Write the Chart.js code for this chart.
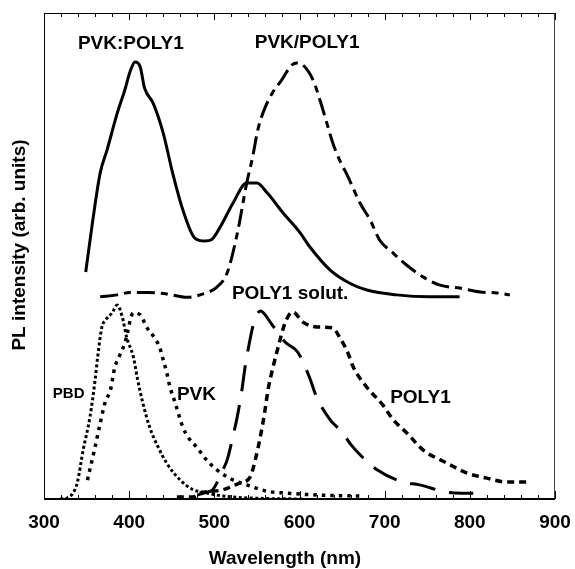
<!DOCTYPE html>
<html>
<head>
<meta charset="utf-8">
<script src="https://cdn.jsdelivr.net/npm/chart.js@4"></script>
<style>
  html, body { margin: 0; padding: 0; background: #fff; }
  #wrap { width: 575px; height: 569px; }
</style>
</head>
<body>
<div id="wrap"><canvas id="plChart" width="575" height="569"></canvas></div>
<script>
// PL spectra, wavelength (nm) vs intensity (arb. units, 0..100 of axis height)
const blendNm = [349, 357, 366, 374, 386, 395, 401, 407, 413, 418, 428, 440, 451, 463, 477, 489, 497, 507, 522, 538, 550, 562, 581, 601, 612, 636, 659, 679, 714, 753, 788];
const blendPL = [46.7, 57, 67.1, 71.8, 79.4, 84.2, 87.9, 89.9, 88.9, 84.6, 81.5, 75.3, 67.1, 59.5, 53.7, 53.1, 53.4, 56, 60.9, 65, 65, 63, 58.8, 54.7, 51.9, 47.1, 44.4, 43, 42, 41.6, 41.6];

const bilayerNm = [366, 386, 401, 421, 444, 468, 487, 503, 515, 527, 538, 545, 551, 557, 568, 579, 591, 597, 604, 616, 624, 632, 639, 647, 657, 671, 683, 694, 710, 726, 745, 765, 788, 812, 832, 847];
const bilayerPL = [41.6, 42.0, 42.5, 42.5, 42.2, 41.5, 42.2, 43.6, 46.5, 54.7, 65, 70.4, 75.9, 79.4, 83.5, 86.2, 89.3, 89.7, 89.3, 86.2, 82.1, 77.4, 73.3, 69.8, 66.3, 60.9, 57.4, 53.3, 50.6, 48.1, 45.7, 44, 43.4, 42.6, 42.4, 42];

const pbdNm = [319, 327, 334, 339, 346, 354, 360, 363, 368, 372, 380, 386, 392, 397, 405, 410, 416, 424, 434, 444, 460, 475, 487, 503, 522, 562, 606];
const pbdPL = [0, 0.2, 1.2, 3.3, 10.1, 16.9, 24.5, 29.2, 35.4, 36.8, 38.3, 39.9, 37.4, 33.3, 29.2, 24.5, 19.8, 14.8, 10.7, 7.4, 3.9, 1.9, 1.4, 0.8, 0.4, 0.1, 0];

const pvkNm = [351, 360, 366, 372, 378, 383, 389, 395, 405, 413, 421, 430, 436, 440, 444, 448, 454, 463, 469, 480, 491, 503, 522, 538, 562, 585, 624, 674];
const pvkPL = [3.9, 10.7, 15.6, 20, 22.4, 27, 29.6, 32.1, 38.3, 37.9, 35.2, 33.1, 31.1, 28.6, 26.1, 23, 19.8, 14.8, 12.8, 10.5, 8, 6, 3.9, 2.9, 1.6, 1.2, 0.8, 0.6];

const solutNm = [480, 491, 498, 510, 515, 522, 527, 532, 536, 541, 546, 554, 568, 583, 598, 612, 620, 636, 651, 659, 674, 691, 721, 741, 773, 791, 804];
const solutPL = [0.8, 1.4, 1.9, 6, 8, 13, 17, 22, 27, 32, 36, 38.7, 35.8, 32.3, 30.2, 24.9, 21, 16.3, 13.6, 11.5, 8.6, 6, 3.5, 2.9, 1.4, 1.2, 1.2];

const filmNm = [456, 475, 483, 510, 530, 542, 548, 554, 559, 563, 569, 575, 583, 592, 604, 620, 639, 647, 657, 663, 679, 698, 710, 726, 745, 773, 797, 820, 843, 870];
const filmPL = [0.4, 0.4, 1.2, 1.9, 3.3, 4.5, 8, 12.8, 17.7, 22.4, 27.2, 31.3, 36.2, 38.5, 36.4, 35.4, 35.2, 33.3, 30, 27.2, 23, 19.3, 16.3, 13.6, 10.1, 7.4, 5.3, 4.3, 3.5, 3.5];

// curve labels, placed in data coordinates
const labelTexts = ['PVK:POLY1', 'PVK/POLY1', 'POLY1 solut.', 'PBD', 'PVK', 'POLY1'];
const labelNm = [402, 609, 589, 329, 479, 742];
const labelPL = [93.6, 93.8, 42.2, 21.6, 21.4, 20.8];
const labelSize = [19, 19, 19, 15, 19, 19];

const xTicks = [300, 400, 500, 600, 700, 800, 900];

const FONT = '"Liberation Sans", Arial, sans-serif';

function toPoints(xs, ys) {
    return xs.map((x, i) => ({ x: x, y: ys[i] }));
}

function lineSet(label, xs, ys, dash, width) {
    return {
        label: label,
        data: toPoints(xs, ys),
        borderColor: '#000',
        borderWidth: width,
        borderDash: dash,
        borderCapStyle: 'butt',
        pointRadius: 0,
        fill: false,
        cubicInterpolationMode: 'monotone'
    };
}

// frame, inner ticks and text labels
const framePlugin = {
    id: 'frame',
    afterDraw(chart) {
        const { ctx, chartArea: a, scales } = chart;
        const xs = scales.x, ys = scales.y;
        ctx.save();
        ctx.strokeStyle = '#000';
        ctx.lineWidth = 1;
        ctx.beginPath();
        ctx.moveTo(a.left + 0.5, a.bottom);
        ctx.lineTo(a.left + 0.5, a.top + 0.5);
        ctx.lineTo(a.right, a.top + 0.5);
        ctx.stroke();
        ctx.strokeStyle = '#444';
        ctx.beginPath();
        ctx.moveTo(a.right - 0.5, a.top);
        ctx.lineTo(a.right - 0.5, a.bottom);
        ctx.stroke();
        ctx.strokeStyle = '#000';
        ctx.lineWidth = 2;
        ctx.beginPath();
        ctx.moveTo(a.left, a.bottom);
        ctx.lineTo(a.right, a.bottom);
        ctx.stroke();

        ctx.lineWidth = 1;
        ctx.beginPath();
        for (let v = 300; v <= 900; v += 20) {
            const px = Math.round(xs.getPixelForValue(v)) + 0.5;
            const major = v % 100 === 0;
            ctx.moveTo(px, a.bottom);
            ctx.lineTo(px, a.bottom - (major ? 8 : 4));
            ctx.moveTo(px, a.top);
            ctx.lineTo(px, a.top + (major ? 7 : 4));
        }
        ctx.stroke();

        ctx.fillStyle = '#000';
        ctx.textAlign = 'center';
        ctx.textBaseline = 'middle';
        labelTexts.forEach((t, i) => {
            ctx.font = 'bold ' + labelSize[i] + 'px ' + FONT;
            ctx.fillText(t, xs.getPixelForValue(labelNm[i]), ys.getPixelForValue(labelPL[i]));
        });

        // axis titles
        ctx.font = 'bold 19px ' + FONT;
        ctx.fillText('Wavelength (nm)', 285, 559);
        ctx.translate(19.5, 245);
        ctx.rotate(-Math.PI / 2);
        ctx.fillText('PL intensity (arb. units)', 0, 0);
        ctx.restore();
    }
};

const ctx = document.getElementById('plChart').getContext('2d');
new Chart(ctx, {
    type: 'line',
    data: {
        datasets: [
            lineSet('PVK:POLY1', blendNm, blendPL, [], 3),
            lineSet('PVK/POLY1', bilayerNm, bilayerPL, [18, 6, 7, 6], 3),
            lineSet('PBD', pbdNm, pbdPL, [3, 2.5], 3),
            lineSet('PVK', pvkNm, pvkPL, [3.5, 5], 3.5),
            lineSet('POLY1 solut.', solutNm, solutPL, [26, 14], 3),
            lineSet('POLY1', filmNm, filmPL, [7, 5], 3.5)
        ]
    },
    options: {
        responsive: false,
        animation: false,
        layout: { padding: { top: 13, right: 20, left: 0, bottom: 0 } },
        plugins: {
            legend: { display: false },
            tooltip: { enabled: false }
        },
        scales: {
            x: {
                type: 'linear',
                min: 300,
                max: 900,
                afterBuildTicks: s => { s.ticks = xTicks.map(v => ({ value: v })); },
                afterFit: s => { s.height = 70; s.paddingLeft = 0; s.paddingRight = 0; },
                grid: { display: false, drawTicks: false },
                border: { display: false },
                ticks: {
                    padding: 12,
                    maxRotation: 0,
                    color: '#000',
                    font: { family: FONT, size: 19, weight: 'bold' }
                }
            },
            y: {
                min: 0,
                max: 100,
                afterFit: s => { s.width = 44; },
                grid: { display: false, drawTicks: false },
                border: { display: false },
                ticks: { display: false }
            }
        }
    },
    plugins: [framePlugin]
});
</script>
</body>
</html>
